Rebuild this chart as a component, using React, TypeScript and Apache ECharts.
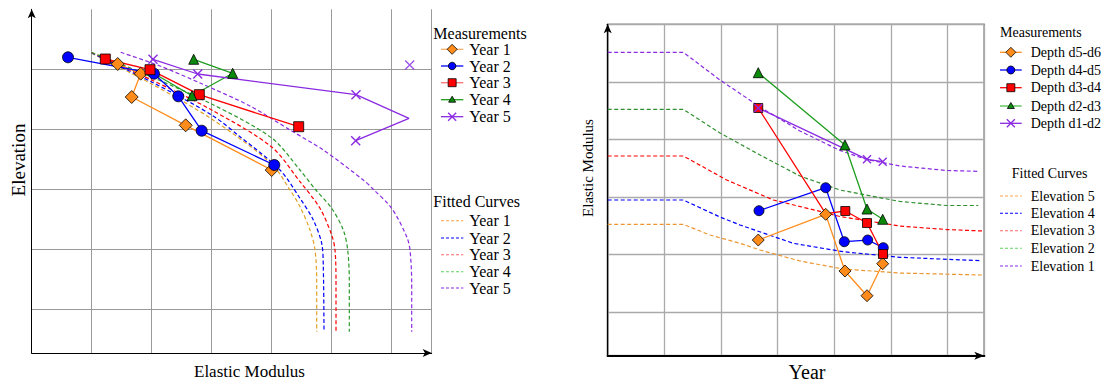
import React, { useEffect, useRef } from "react";
import * as echarts from "echarts";

// ---------- LEFT PANEL: Elevation (inverted, from top) vs Elastic Modulus ----------
const leftMeasureNames = ["Year 1", "Year 2", "Year 3", "Year 4", "Year 5"];
const leftFitNames = ["Year 1", "Year 2", "Year 3", "Year 4", "Year 5"];

const leftYear1 = [[43, 27.35], [54.5, 32.2], [50, 43.85], [77, 58], [120, 80.35]];
const leftYear2 = [[18.15, 24], [61.15, 32.2], [73.3, 43.5], [85, 60.7], [121.3, 77.85]];
const leftYear3 = [[36.8, 24.85], [59.15, 30.2], [83.8, 42.7], [133.5, 58.7]];
const leftYear4 = [[61.15, 32.1], [80.15, 43.2], [100.5, 32], [81, 25]];
const leftYear4NoMarker = [0];
const leftYear5 = [[60.65, 25], [83, 32.35], [162.15, 42.7], [188.65, 54.5], [162, 65.7]];
const leftYear5NoMarker = [3];
const leftYear5Extra = [[189, 27.85]];

const leftFit1 = [[30, 22], [60, 37.35], [90, 54.85], [120, 77.35], [129.15, 90.35], [134.15, 98.7], [139.15, 110.35], [141.65, 120.35], [142.5, 135.35], [142.5, 161.2]];
const leftFit2 = [[30, 21.85], [60, 36.35], [90, 52.85], [104.15, 63.7], [124.15, 80.35], [134.15, 94.5], [140.8, 105.35], [145, 117], [145.8, 128.7], [146.15, 161.2]];
const leftFit3 = [[30, 21.6], [60, 35.35], [90, 50.35], [120, 68.85], [134.15, 86.2], [144.15, 99.5], [150, 112.85], [151.65, 120.35], [152.15, 135.35], [152.15, 161.2]];
const leftFit4 = [[30, 21.6], [60, 33.85], [90, 47.35], [120, 64.35], [134.15, 80.35], [141.65, 89.85], [150, 99.5], [155.8, 110.35], [158, 120.35], [158.8, 135.35], [158.8, 161.2]];
const leftFit5 = [[44.5, 21.5], [64.15, 28.35], [84.15, 36.85], [109.15, 48.35], [129.15, 60.35], [145.8, 70.35], [165.8, 85.35], [170.8, 90], [180, 99.5], [187.5, 113.7], [189.15, 120.35], [190, 137], [190, 161.2]];

// ---------- RIGHT PANEL: Elastic Modulus (inverted) vs Year ----------
const rightMeasureNames = ["Depth d5-d6", "Depth d4-d5", "Depth d3-d4", "Depth d2-d3", "Depth d1-d2"];
const rightFitNames = ["Elevation 5", "Elevation 4", "Elevation 3", "Elevation 2", "Elevation 1"];

const rightD56 = [[2.657, 3.745], [3.847, 3.299], [4.187, 4.283], [4.576, 4.712], [4.853, 4.156]];
const rightD45 = [[2.67, 3.236], [3.847, 2.837], [4.175, 3.774], [4.588, 3.745], [4.863, 3.878]];
const rightD34 = [[2.657, 1.453], [3.847, 3.285], [4.193, 3.241], [4.576, 3.45], [4.858, 3.988]];
const rightD34NoMarker = [1];
const rightD23 = [[2.657, 0.84], [4.187, 2.095], [4.576, 3.207], [4.853, 3.385]];
const rightD12 = [[2.657, 1.453], [4.576, 2.344], [4.853, 2.385]];

const rightFitE5 = [[0, 3.472], [1.334, 3.472], [1.805, 3.658], [2.335, 3.802], [2.688, 3.918], [3.393, 4.109], [4.157, 4.248], [5.158, 4.318], [6.6, 4.352]];
const rightFitE4 = [[0, 3.05], [1.334, 3.05], [1.982, 3.345], [2.335, 3.484], [3.275, 3.802], [4.157, 3.948], [5.158, 4.045], [6.587, 4.104]];
const rightFitE3 = [[0, 2.286], [1.334, 2.286], [2.1, 2.703], [2.922, 3.05], [3.865, 3.276], [4.099, 3.337], [5.158, 3.502], [5.982, 3.563], [6.64, 3.589]];
const rightFitE2 = [[0, 1.476], [1.334, 1.476], [1.982, 1.887], [2.688, 2.269], [3.393, 2.634], [4.099, 2.877], [5.158, 3.076], [5.982, 3.146], [6.54, 3.146]];
const rightFitE1 = [[0, 0.486], [1.334, 0.486], [1.982, 0.967], [2.688, 1.436], [3.393, 1.852], [4.099, 2.191], [4.57, 2.347], [5.158, 2.46], [5.982, 2.538], [6.54, 2.552]];

const FONT = "'Liberation Serif', 'Times New Roman', serif";
const X_PATH = "path://M0,0L10,10M10,0L0,10";

const ORANGE = "#ff8c1a";
const BLUE = "#0000ff";
const RED = "#ff0000";
const GREEN_LINE = "#1f9e1f";
const GREEN_FILL = "#0b8a0b";
const PURPLE = "#8a2be2";

function measSeries(name: string, data: number[][], noMarker: number[], gi: number, symbol: string, size: number, fill: string, line: string) {
  const isX = symbol === X_PATH;
  return {
    type: "line",
    name,
    xAxisIndex: gi,
    yAxisIndex: gi,
    data: data.map((p, i) => (noMarker.includes(i) ? { value: p, symbol: "none" } : p)),
    symbol,
    symbolSize: size,
    showSymbol: true,
    lineStyle: { color: line, width: 1.3 },
    itemStyle: isX ? { color: fill, borderColor: fill, borderWidth: 1.4 } : { color: fill, borderColor: "#000", borderWidth: 0.8 },
    z: 5,
  };
}

function fitSeries(name: string, data: number[][], gi: number, color: string, smooth: number | boolean) {
  return {
    type: "line",
    name,
    xAxisIndex: gi,
    yAxisIndex: gi,
    data,
    symbol: "none",
    smooth,
    lineStyle: { color, width: 1.2, type: [4, 2.5] },
    z: 3,
  };
}

function legendMarker(kind: string, cx: number, cy: number, s: number, fill: string): any {
  const st = { fill, stroke: "#000", lineWidth: 0.8 };
  if (kind === "diamond")
    return { type: "polygon", shape: { points: [[cx, cy - s / 2], [cx + s / 2, cy], [cx, cy + s / 2], [cx - s / 2, cy]] }, style: st };
  if (kind === "circle") return { type: "circle", shape: { cx, cy, r: s / 2 }, style: st };
  if (kind === "rect") return { type: "rect", shape: { x: cx - s / 2, y: cy - s / 2, width: s, height: s }, style: st };
  if (kind === "triangle")
    return { type: "polygon", shape: { points: [[cx, cy - s / 2], [cx + s / 2, cy + s / 2 - 1], [cx - s / 2, cy + s / 2 - 1]] }, style: st };
  const h = s / 2;
  return {
    type: "group",
    children: [
      { type: "line", shape: { x1: cx - h, y1: cy - h, x2: cx + h, y2: cy + h }, style: { stroke: fill, lineWidth: 1.3 } },
      { type: "line", shape: { x1: cx + h, y1: cy - h, x2: cx - h, y2: cy + h }, style: { stroke: fill, lineWidth: 1.3 } },
    ],
  };
}

function text(t: string, x: number, y: number, size: number, align = "left", rotation = 0): any {
  return {
    type: "text",
    x,
    y,
    rotation,
    style: {
      text: t,
      x: 0,
      y: 0,
      font: `${size}px ${FONT}`,
      fill: "#000",
      textAlign: align,
      align,
      textVerticalAlign: "middle",
      verticalAlign: "middle",
    },
  };
}

function buildLegend(
  titleM: [number, number], titleF: [number, number], titleSize: number,
  iconX1: number, iconX2: number, textX: number, textSize: number,
  mYs: number[], fYs: number[], mNames: string[], fNames: string[],
  mKinds: string[], mSizes: number[], mFills: string[], mLines: string[], fColors: string[]
) {
  const els: any[] = [];
  els.push(text("Measurements", titleM[0], titleM[1], titleSize));
  els.push(text("Fitted Curves", titleF[0], titleF[1], titleSize));
  const mid = (iconX1 + iconX2) / 2;
  mNames.forEach((n, i) => {
    const y = mYs[i];
    els.push({ type: "line", shape: { x1: iconX1, y1: y, x2: iconX2, y2: y }, style: { stroke: mLines[i], lineWidth: 1.3 } });
    els.push(legendMarker(mKinds[i], mid, y, mSizes[i], mFills[i]));
    els.push(text(n, textX, y, textSize));
  });
  fNames.forEach((n, i) => {
    const y = fYs[i];
    els.push({ type: "line", shape: { x1: iconX1, y1: y, x2: iconX2, y2: y }, style: { stroke: fColors[i], lineWidth: 1.1, lineDash: [3, 2] } });
    els.push(text(n, textX, y, textSize));
  });
  return els;
}

function axisCommon(extra: any) {
  return {
    type: "value",
    axisTick: { show: false },
    axisLabel: { show: false },
    ...extra,
  };
}

export default function App() {
  const ref = useRef<HTMLDivElement>(null);
  useEffect(() => {
    if (!ref.current) return;
    const chart = echarts.init(ref.current, null, { renderer: "svg" });
    const hideFirst = ["rgba(0,0,0,0)", "#9a9a9a", "#9a9a9a", "#9a9a9a", "#9a9a9a", "#9a9a9a", "#9a9a9a", "#9a9a9a", "#9a9a9a"];

    const series: any[] = [
      fitSeries("fit Year 1", leftFit1, 0, "#e0a22a", 0.3),
      fitSeries("fit Year 2", leftFit2, 0, BLUE, 0.3),
      fitSeries("fit Year 3", leftFit3, 0, RED, 0.3),
      fitSeries("fit Year 4", leftFit4, 0, "#2a9a2a", 0.3),
      fitSeries("fit Year 5", leftFit5, 0, PURPLE, 0.3),
      measSeries("Year 1", leftYear1, [], 0, "diamond", 13, ORANGE, ORANGE),
      measSeries("Year 2", leftYear2, [], 0, "circle", 11, BLUE, BLUE),
      measSeries("Year 3", leftYear3, [], 0, "rect", 10, RED, RED),
      measSeries("Year 4", leftYear4, leftYear4NoMarker, 0, "triangle", 10, GREEN_FILL, GREEN_LINE),
      measSeries("Year 5", leftYear5, leftYear5NoMarker, 0, X_PATH, 9, PURPLE, PURPLE),
      { ...measSeries("Year 5 extra", leftYear5Extra, [], 0, X_PATH, 9, PURPLE, PURPLE), type: "scatter" },

      fitSeries("fit E5", rightFitE5, 1, "#eb9630", false),
      fitSeries("fit E4", rightFitE4, 1, BLUE, false),
      fitSeries("fit E3", rightFitE3, 1, RED, false),
      fitSeries("fit E2", rightFitE2, 1, "#2f8f2f", false),
      fitSeries("fit E1", rightFitE1, 1, PURPLE, false),
      measSeries("Depth d5-d6", rightD56, [], 1, "diamond", 12, ORANGE, ORANGE),
      measSeries("Depth d4-d5", rightD45, [], 1, "circle", 10, BLUE, BLUE),
      measSeries("Depth d3-d4", rightD34, rightD34NoMarker, 1, "rect", 9, RED, RED),
      measSeries("Depth d2-d3", rightD23, [], 1, "triangle", 10, GREEN_FILL, GREEN_LINE),
      measSeries("Depth d1-d2", rightD12, [], 1, X_PATH, 8, PURPLE, PURPLE),
    ];

    const graphic: any[] = [
      text("Elevation", 18, 160, 19, "center", Math.PI / 2),
      text("Elastic Modulus", 249.5, 371, 17, "center"),
      text("Elastic Modulus", 588, 168, 15, "center", Math.PI / 2),
      text("Year", 807, 372, 20, "center"),
      ...buildLegend(
        [433.3, 33.3], [433.3, 201.3], 16, 441, 463.3, 469.3, 16,
        [49.3, 66, 82.7, 99.7, 116.7], [220.7, 238, 254.7, 271.7, 288],
        leftMeasureNames, leftFitNames,
        ["diamond", "circle", "rect", "triangle", "x"], [10, 7.5, 8, 7, 8],
        [ORANGE, BLUE, RED, GREEN_FILL, PURPLE],
        ["#f7b26a", BLUE, "#ff7070", GREEN_LINE, PURPLE],
        ["#ffa347", BLUE, "#ff6a6a", "#5fd35f", PURPLE]
      ),
      ...buildLegend(
        [1000, 32.3], [1011.7, 173.3], 14, 1000, 1021.7, 1030.7, 14,
        [52.3, 70, 87.7, 106, 123.3], [196, 213.3, 230.7, 248.3, 266],
        rightMeasureNames, rightFitNames,
        ["diamond", "circle", "rect", "triangle", "x"], [10, 8, 8, 7, 8],
        [ORANGE, BLUE, RED, GREEN_FILL, PURPLE],
        [ORANGE, BLUE, RED, "#4cc04c", PURPLE],
        ["#ffa347", BLUE, "#ff6a6a", "#5fd35f", PURPLE]
      ),
    ];

    chart.setOption({
      animation: false,
      grid: [
        { left: 31.7, top: 9.3, width: 400, height: 343.7, show: false },
        { left: 607.7, top: 24.3, width: 376.6, height: 331.4, show: true, borderColor: "#222", borderWidth: 1.3 },
      ],
      xAxis: [
        axisCommon({
          gridIndex: 0, min: 0, max: 200, interval: 30,
          axisLine: { show: true, onZero: false, symbol: ["none", "arrow"], symbolSize: [6, 9], lineStyle: { color: "#000", width: 1 } },
          splitLine: { show: true, lineStyle: { color: "#9a9a9a", width: 1 } },
        }),
        axisCommon({
          gridIndex: 1, min: 0, max: 6.646, interval: 1,
          axisLine: { show: true, onZero: false, symbol: ["none", "arrow"], symbolSize: [6, 10], lineStyle: { color: "#000", width: 2.2 } },
          splitLine: { show: true, lineStyle: { color: "#aaaaaa", width: 1.3 } },
        }),
      ],
      yAxis: [
        axisCommon({
          gridIndex: 0, inverse: true, min: 0, max: 171.85, interval: 30,
          axisLine: { show: true, onZero: false, symbol: ["none", "arrow"], symbolSize: [6, 9], lineStyle: { color: "#000", width: 1 } },
          splitLine: { show: true, lineStyle: { color: hideFirst, width: 1 } },
        }),
        axisCommon({
          gridIndex: 1, inverse: true, min: 0, max: 5.753, interval: 1,
          axisLine: { show: true, onZero: false, symbol: ["none", "arrow"], symbolSize: [6, 9], lineStyle: { color: "#000", width: 1.3 } },
          splitLine: { show: true, lineStyle: { color: "#aaaaaa", width: 1.3 } },
        }),
      ],
      series,
      graphic,
    });
    return () => chart.dispose();
  }, []);
  return <div ref={ref} style={{ position: "absolute", left: 0, top: 0, width: 1104, height: 386, background: "#fff" }} />;
}
